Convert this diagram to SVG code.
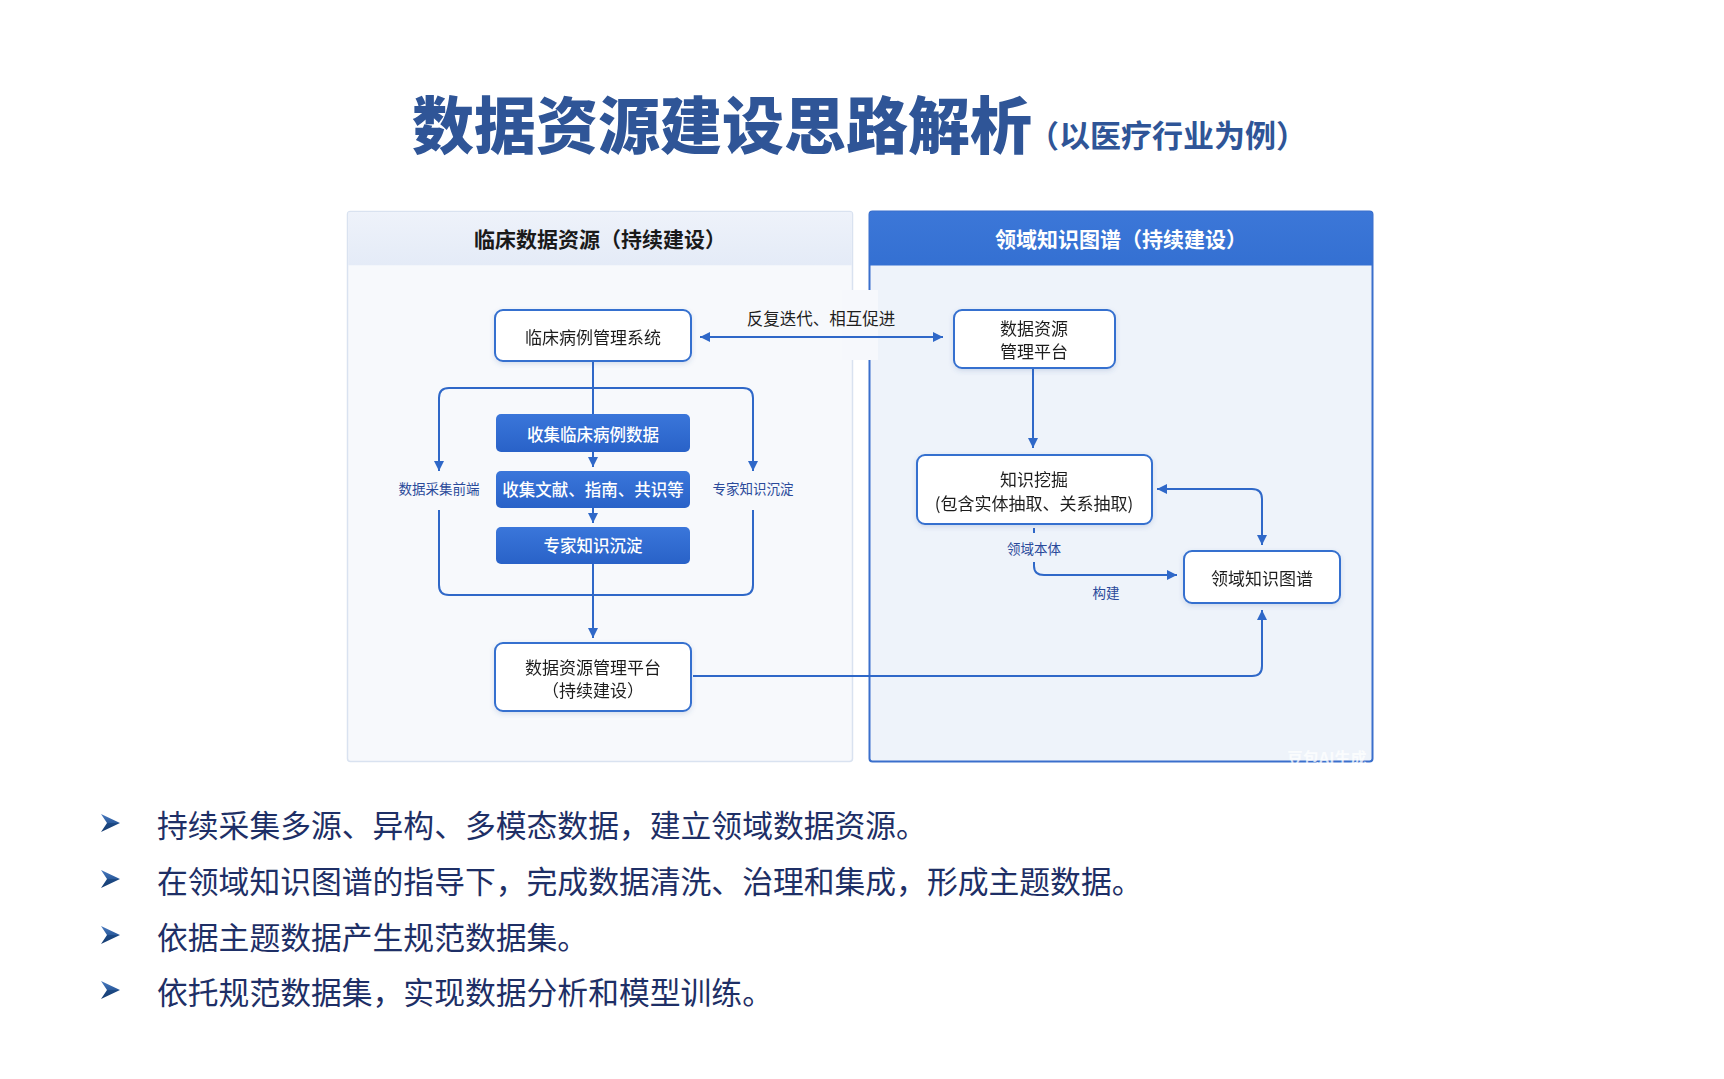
<svg xmlns="http://www.w3.org/2000/svg" width="1724" height="1079" viewBox="0 0 1724 1079">
<defs>
<style>
text{font-family:"Noto Sans CJK SC","Noto Sans",sans-serif;dominant-baseline:central}
.node{fill:#fff;stroke:#3570CF;stroke-width:2}
.nt{font-size:17px;fill:#1f1f1f;text-anchor:middle}
.bt{font-size:16.5px;fill:#fff;font-weight:500;text-anchor:middle}
.blue{fill:url(#gBlue)}
.lbl{font-size:13.5px;fill:#2A4A9A;text-anchor:middle}
.con{fill:none;stroke:#2F68C8;stroke-width:2}
.bul{font-size:30.8px;fill:#1E2F66}
</style>
<linearGradient id="gBlue" x1="0" y1="0" x2="0" y2="1"><stop offset="0" stop-color="#3A76DA"/><stop offset="1" stop-color="#2962C8"/></linearGradient>
<linearGradient id="gHeadL" x1="0" y1="0" x2="0" y2="1"><stop offset="0" stop-color="#EEF2FA"/><stop offset="1" stop-color="#E4EBF7"/></linearGradient>
<linearGradient id="gHeadR" x1="0" y1="0" x2="0" y2="1"><stop offset="0" stop-color="#3C77D8"/><stop offset="1" stop-color="#3470D2"/></linearGradient>
<linearGradient id="gBul" x1="0" y1="0" x2="0" y2="1"><stop offset="0" stop-color="#4A7BC0"/><stop offset="0.5" stop-color="#2A5A9C"/><stop offset="0.5" stop-color="#1C4A86"/><stop offset="1" stop-color="#163C70"/></linearGradient>
<filter id="sh" x="-10%" y="-20%" width="120%" height="150%"><feDropShadow dx="0" dy="2" stdDeviation="2.5" flood-color="#4060A0" flood-opacity="0.18"/></filter>
<marker id="ah" viewBox="0 0 10 10" refX="10" refY="5" markerWidth="11" markerHeight="10" markerUnits="userSpaceOnUse" orient="auto-start-reverse"><path d="M0,0 L10,5 L0,10 z" fill="#2F68C8"/></marker>
</defs>
<rect width="1724" height="1079" fill="#fff"/>

<!-- Title -->
<g id="title">
<text x="412" y="122" font-size="62" font-weight="900" fill="#2F5597">数据资源建设思路解析</text>
<text x="1028" y="133" font-size="31" font-weight="700" fill="#2F5597">（以医疗行业为例）</text>
</g>

<!-- Left panel -->
<g id="panel-left">
<rect x="347.5" y="211.5" width="505" height="550" rx="3" fill="#F7F9FC" stroke="#D9E2F0" stroke-width="1.5"/>
<rect x="348.25" y="212.25" width="503.5" height="53" fill="url(#gHeadL)"/>
<text x="600" y="238" font-size="21" font-weight="700" fill="#1a1a1a" text-anchor="middle">临床数据资源（持续建设）</text>
</g>

<!-- Right panel -->
<g id="panel-right">
<rect x="869.5" y="211.5" width="503" height="550" rx="3" fill="#EEF3FA" stroke="#3A6FCC" stroke-width="2"/>
<path d="M869.5 265.5 V214.5 Q869.5 211.5 872.5 211.5 H1369.5 Q1372.5 211.5 1372.5 214.5 V265.5 Z" fill="url(#gHeadR)"/>
<text x="1121" y="238" font-size="21" font-weight="700" fill="#fff" text-anchor="middle">领域知识图谱（持续建设）</text>
</g>

<!-- gap behind the iteration label -->
<rect x="842" y="290" width="36" height="70" fill="#F6F8FC"/>

<!-- Connectors -->
<g id="connectors">
<path class="con" d="M700 337 H943" marker-start="url(#ah)" marker-end="url(#ah)"/>
<path class="con" d="M593 361 V414"/>
<path class="con" d="M439 471 V398 Q439 388 449 388 H743 Q753 388 753 398 V471" marker-start="url(#ah)" marker-end="url(#ah)"/>
<path class="con" d="M439 510 V585 Q439 595 449 595 H743 Q753 595 753 585 V510"/>
<path class="con" d="M593 452 V467" marker-end="url(#ah)"/>
<path class="con" d="M593 508 V523" marker-end="url(#ah)"/>
<path class="con" d="M593 564 V638" marker-end="url(#ah)"/>
<path class="con" d="M1033 368 V448" marker-end="url(#ah)"/>
<path class="con" d="M1157 489 H1252 Q1262 489 1262 499 V545" marker-start="url(#ah)" marker-end="url(#ah)"/>
<path class="con" d="M1034 528 V533"/>
<path class="con" d="M1034 562 V566 Q1034 575 1044 575 H1177" marker-end="url(#ah)"/>
<path class="con" d="M693 676 H1252 Q1262 676 1262 666 V610" marker-end="url(#ah)"/>
<text x="821" y="318" font-size="16.5" fill="#1f1f1f" text-anchor="middle">反复迭代、相互促进</text>
<text class="lbl" x="439" y="488">数据采集前端</text>
<text class="lbl" x="753" y="488">专家知识沉淀</text>
<text class="lbl" x="1034" y="548">领域本体</text>
<text class="lbl" x="1106" y="592">构建</text>
</g>

<!-- Nodes -->
<g id="n-clinical-system" filter="url(#sh)">
<rect class="node" x="495" y="310" width="196" height="51" rx="8"/>
<text class="nt" x="593" y="336">临床病例管理系统</text>
</g>
<g id="n-collect-cases">
<rect class="blue" x="496" y="414" width="194" height="38" rx="5"/>
<text class="bt" x="593" y="434">收集临床病例数据</text>
</g>
<g id="n-collect-lit">
<rect class="blue" x="496" y="471" width="194" height="37" rx="5"/>
<text class="bt" x="593" y="489">收集文献、指南、共识等</text>
</g>
<g id="n-expert">
<rect class="blue" x="496" y="527" width="194" height="37" rx="5"/>
<text class="bt" x="593" y="545">专家知识沉淀</text>
</g>
<g id="n-platform-left" filter="url(#sh)">
<rect class="node" x="495" y="643" width="196" height="68" rx="8"/>
<text class="nt" x="593" y="666">数据资源管理平台</text>
<text class="nt" x="593" y="689">（持续建设）</text>
</g>
<g id="n-platform-right" filter="url(#sh)">
<rect class="node" x="954" y="310" width="161" height="58" rx="8"/>
<text class="nt" x="1034" y="327">数据资源</text>
<text class="nt" x="1034" y="350">管理平台</text>
</g>
<g id="n-mining" filter="url(#sh)">
<rect class="node" x="917" y="455" width="235" height="69" rx="8"/>
<text class="nt" x="1034" y="478">知识挖掘</text>
<text class="nt" x="1034" y="502">(包含实体抽取、关系抽取)</text>
</g>
<g id="n-kg" filter="url(#sh)">
<rect class="node" x="1184" y="551" width="156" height="52" rx="8"/>
<text class="nt" x="1262" y="577">领域知识图谱</text>
</g>

<text x="1287" y="757" font-size="16" font-weight="700" fill="#fff" fill-opacity="0.75">豆包AI生成</text>

<!-- Bullets -->
<g id="bullets">
<g id="b1"><polygon points="101,814 120,823 101,832 107,823" fill="url(#gBul)"/><text class="bul" x="157" y="823">持续采集多源、异构、多模态数据，建立领域数据资源。</text></g>
<g id="b2"><polygon points="101,870 120,879 101,888 107,879" fill="url(#gBul)"/><text class="bul" x="157" y="879">在领域知识图谱的指导下，完成数据清洗、治理和集成，形成主题数据。</text></g>
<g id="b3"><polygon points="101,926 120,935 101,944 107,935" fill="url(#gBul)"/><text class="bul" x="157" y="935">依据主题数据产生规范数据集。</text></g>
<g id="b4"><polygon points="101,981 120,990 101,999 107,990" fill="url(#gBul)"/><text class="bul" x="157" y="990">依托规范数据集，实现数据分析和模型训练。</text></g>
</g>
</svg>
